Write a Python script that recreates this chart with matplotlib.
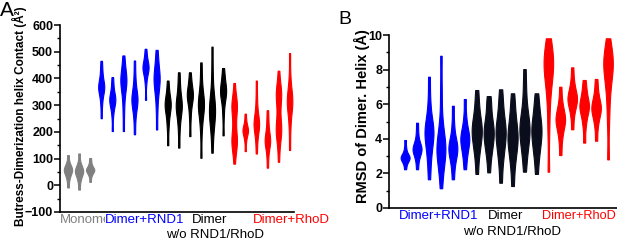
import matplotlib
matplotlib.use("Agg")
import matplotlib.pyplot as plt
from matplotlib.ticker import MultipleLocator

plt.rcParams['font.family'] = ['Liberation Sans', 'DejaVu Sans']

# ---- panel A: butress-dimerization helix contact (A^2) ----
contact_groups = ['Monomer'] * 3 + ['RND1'] * 6 + ['Dimer'] * 6 + ['RhoD'] * 6
contact_samples = [
    [-8, 20, 35, 45, 52, 57, 60, 65, 72, 85, 113],
    [-16, 15, 30, 42, 48, 52, 56, 62, 70, 85, 119],
    [13, 35, 45, 52, 56, 58, 60, 64, 72, 85, 102],
    [251, 300, 330, 350, 360, 366, 370, 376, 390, 410, 435, 466],
    [203, 260, 290, 305, 315, 320, 325, 335, 350, 375, 405],
    [203, 270, 320, 350, 370, 385, 392, 400, 410, 430, 455, 486],
    [191, 250, 285, 305, 315, 322, 330, 345, 370, 410, 467],
    [320, 380, 410, 425, 435, 440, 445, 452, 465, 485, 511],
    [209, 280, 330, 355, 375, 390, 400, 410, 425, 445, 475, 507],
    [150, 215, 250, 275, 290, 300, 305, 315, 330, 355, 392],
    [141, 210, 250, 275, 290, 298, 305, 320, 345, 380, 423],
    [184, 250, 290, 315, 328, 335, 342, 352, 368, 392, 423],
    [103, 200, 250, 280, 295, 302, 310, 325, 350, 400, 460],
    [122, 190, 225, 250, 265, 278, 290, 305, 325, 360, 430, 519],
    [187, 260, 305, 330, 343, 350, 357, 368, 385, 410, 439],
    [81, 130, 150, 160, 168, 178, 200, 230, 260, 285, 295, 302, 310, 330, 383],
    [128, 165, 185, 197, 203, 207, 212, 222, 240, 268],
    [119, 170, 200, 218, 226, 232, 240, 255, 285, 330, 392],
    [66, 110, 140, 155, 163, 170, 178, 192, 215, 245, 281],
    [88, 150, 185, 200, 208, 215, 230, 260, 300, 325, 338, 345, 352, 375, 429],
    [132, 210, 260, 290, 305, 315, 322, 335, 360, 410, 495],
]

# ---- panel B: RMSD of dimer helix (A) ----
rmsd_groups = ['RND1'] * 6 + ['Dimer'] * 6 + ['RhoD'] * 6
rmsd_samples = [
    [2.24, 2.55, 2.72, 2.82, 2.88, 2.92, 2.97, 3.05, 3.2, 3.5, 3.93],
    [2.24, 2.75, 3.05, 3.25, 3.35, 3.42, 3.5, 3.65, 3.9, 4.35, 4.93],
    [1.66, 2.6, 3.2, 3.7, 4.0, 4.25, 4.45, 4.65, 4.9, 5.4, 6.3, 7.59],
    [1.14, 2.1, 2.7, 3.1, 3.3, 3.45, 3.6, 3.85, 4.3, 5.2, 6.8, 8.8],
    [1.66, 2.4, 2.85, 3.15, 3.35, 3.45, 3.6, 3.85, 4.2, 4.9, 5.91],
    [2.24, 2.9, 3.3, 3.6, 3.85, 4.0, 4.15, 4.35, 4.7, 5.3, 6.3],
    [1.97, 2.9, 3.4, 3.8, 4.1, 4.35, 4.55, 4.8, 5.1, 5.5, 6.1, 6.82],
    [2.06, 2.9, 3.35, 3.7, 4.0, 4.25, 4.45, 4.7, 5.0, 5.4, 6.0, 6.47],
    [1.46, 2.5, 3.1, 3.55, 3.9, 4.2, 4.45, 4.7, 5.0, 5.5, 6.1, 6.86],
    [1.27, 2.3, 2.9, 3.35, 3.7, 3.95, 4.2, 4.5, 4.85, 5.3, 5.9, 6.63],
    [2.1, 3.0, 3.5, 3.9, 4.25, 4.5, 4.75, 5.0, 5.4, 6.0, 6.9, 8.03],
    [1.97, 2.8, 3.3, 3.7, 4.0, 4.3, 4.55, 4.8, 5.1, 5.5, 6.0, 6.63],
    [2.1, 4.5, 6.0, 6.9, 7.5, 7.9, 8.15, 8.35, 8.6, 8.9, 9.3, 9.81],
    [3.06, 3.9, 4.4, 4.75, 4.95, 5.1, 5.25, 5.45, 5.75, 6.2, 7.01],
    [4.55, 5.3, 5.75, 6.0, 6.2, 6.33, 6.45, 6.65, 6.95, 7.4, 8.13],
    [3.78, 4.7, 5.2, 5.55, 5.75, 5.88, 6.0, 6.2, 6.5, 6.9, 7.4],
    [3.89, 4.7, 5.15, 5.45, 5.65, 5.78, 5.9, 6.1, 6.4, 6.85, 7.46],
    [2.81, 5.0, 6.3, 7.1, 7.7, 8.05, 8.3, 8.5, 8.75, 9.1, 9.81],
]

colors_a = {'Monomer': '#808080', 'RND1': '#0000ff', 'Dimer': '#000000', 'RhoD': '#ff0000'}
colors_b = {'RND1': '#0000ff', 'Dimer': '#0a0e1c', 'RhoD': '#ff0000'}
widths_a = {'Monomer': 0.75, 'RND1': 0.55, 'Dimer': 0.55, 'RhoD': 0.5}
widths_b = {'RND1': 0.75, 'Dimer': 0.85, 'RhoD': 0.8}


def draw_violins(ax, samples, groups, colors, widths):
    pos = list(range(1, len(samples) + 1))
    parts = ax.violinplot(samples, positions=pos, widths=[widths[g] for g in groups],
                          showextrema=False, bw_method=0.4, points=200)
    for body, g in zip(parts['bodies'], groups):
        body.set_facecolor(colors[g])
        body.set_edgecolor(colors[g])
        body.set_linewidth(0.8)
        body.set_alpha(1)


def style_axis(ax):
    for s in ['top', 'right']:
        ax.spines[s].set_visible(False)
    for s in ['left', 'bottom']:
        ax.spines[s].set_linewidth(1.2)
    ax.set_xticks([])
    ax.tick_params(axis='y', which='major', length=4, width=1.1, labelsize=9, pad=1)
    ax.tick_params(axis='y', which='minor', length=2.5, width=1.0)
    for lab in ax.get_yticklabels():
        lab.set_fontweight('bold')


fig = plt.figure(figsize=(6.17, 2.41), dpi=100)
W, H = 617, 241

ax1 = fig.add_axes([60 / W, 1 - 212 / H, 234 / W, 187 / H])
draw_violins(ax1, contact_samples, contact_groups, colors_a, widths_a)
ax1.set_xlim(0.28, 21.4)
ax1.set_ylim(-100, 600)
ax1.yaxis.set_major_locator(MultipleLocator(100))
ax1.yaxis.set_minor_locator(MultipleLocator(50))
style_axis(ax1)
ax1.set_ylabel('Butress-Dimerization helix Contact (Å²)', fontsize=8.5, fontweight='bold')
ax1.yaxis.set_label_coords(-0.14, 0.51)

ax2 = fig.add_axes([389 / W, 1 - 208 / H, 228 / W, 173 / H])
draw_violins(ax2, rmsd_samples, rmsd_groups, colors_b, widths_b)
ax2.set_xlim(-0.35, 18.75)
ax2.set_ylim(0, 10)
ax2.yaxis.set_major_locator(MultipleLocator(2))
ax2.yaxis.set_minor_locator(MultipleLocator(1))
style_axis(ax2)
ax2.set_ylabel('RMSD of Dimer. Helix (Å)', fontsize=10.5, fontweight='bold')
ax2.yaxis.set_label_coords(-0.085, 0.53)

# panel letters
fig.text(0 / W, 1 - 10 / H, 'A', fontsize=15, va='center', ha='left')
fig.text(338 / W, 1 - 19 / H, 'B', fontsize=14, va='center', ha='left')

# group labels, panel A
fig.text(60 / W, 1 - 220 / H, 'Monomer', fontsize=9.5, color='#808080', va='center')
fig.text(105 / W, 1 - 220 / H, 'Dimer+RND1', fontsize=9.5, color='#0000ff', va='center',
         bbox=dict(facecolor='white', edgecolor='none', pad=0))
fig.text(192 / W, 1 - 220 / H, 'Dimer', fontsize=9.5, color='black', va='center')
fig.text(166 / W, 1 - 235 / H, 'w/o RND1/RhoD', fontsize=9.5, color='black', va='center')
fig.text(253 / W, 1 - 220 / H, 'Dimer+RhoD', fontsize=9.5, color='#ff0000', va='center')

# group labels, panel B
fig.text(399 / W, 1 - 216 / H, 'Dimer+RND1', fontsize=9.5, color='#0000ff', va='center')
fig.text(488 / W, 1 - 216 / H, 'Dimer', fontsize=9.5, color='black', va='center')
fig.text(463 / W, 1 - 232 / H, 'w/o RND1/RhoD', fontsize=9.5, color='black', va='center')
fig.text(616 / W, 1 - 216 / H, 'Dimer+RhoD', fontsize=9.2, color='#ff0000', va='center',
         ha='right')

fig.savefig('out.png', dpi=100)
